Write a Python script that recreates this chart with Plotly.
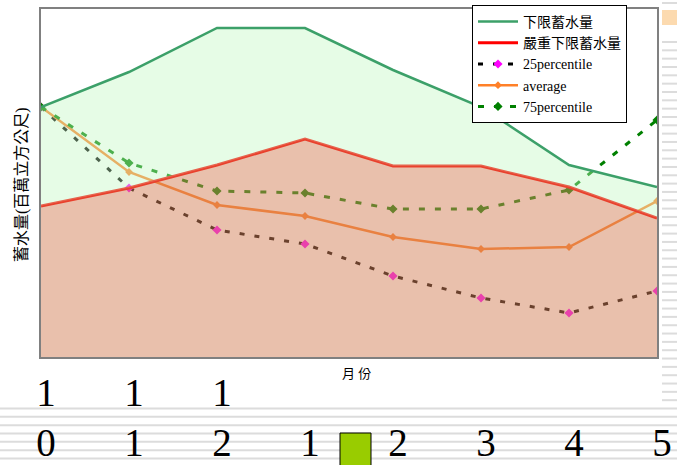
import plotly.graph_objects as go

# Months of the water year (Oct -> May)
months = ["10", "11", "12", "1", "2", "3", "4", "5"]

# Storage curves (relative units, 百萬立方公尺)
lower_limit = [250, 285, 329, 329, 287, 250, 192, 170]       # 下限蓄水量
severe_lower = [151, 169, 192, 218, 191, 191, 170, 139]      # 嚴重下限蓄水量
p25 = [250, 169, 127, 113, 81, 59, 44, 66]                   # 25percentile
average = [250, 185, 152, 141, 120, 108, 110, 156]           # average
p75 = [250, 194, 166, 164, 148, 148, 167, 237]               # 75percentile

# Tick labels stacked one digit per line
tick_text = [m[0] + "<br>" + m[1] if len(m) == 2 else "\u00a0<br>" + m for m in months]

W, H = 677, 465
L, R, T, B = 41, 20, 9, 108
PW, PH = W - L - R, H - T - B


def px_x(px):
    return (px - L) / PW


def px_y(py):
    return (H - B - py) / PH


SERIF = "Liberation Serif, Noto Sans CJK TC"
fig = go.Figure()

# statistic lines (drawn first so the translucent areas sit over them)
fig.add_trace(go.Scatter(
    x=months, y=p25, name="25percentile", mode="lines+markers", legendrank=3,
    line=dict(color="black", width=3, dash="5px,10px"),
    marker=dict(symbol="diamond", size=7, color="#ff00ff")))
fig.add_trace(go.Scatter(
    x=months, y=average, name="average", mode="lines+markers", legendrank=4,
    line=dict(color="rgb(255,128,40)", width=2.5),
    marker=dict(symbol="diamond", size=6, color="rgb(255,128,40)")))
fig.add_trace(go.Scatter(
    x=months, y=p75, name="75percentile", mode="lines+markers", legendrank=5,
    line=dict(color="rgb(0,128,0)", width=3, dash="6px,10px"),
    marker=dict(symbol="diamond", size=7, color="rgb(0,128,0)")))
fig.add_trace(go.Scatter(
    x=months, y=severe_lower, name="嚴重下限蓄水量", mode="lines", legendrank=2,
    line=dict(color="red", width=3)))

# translucent areas
fig.add_trace(go.Scatter(
    x=months, y=severe_lower, mode="lines", fill="tozeroy", showlegend=False,
    line=dict(width=0), fillcolor="rgba(211,129,89,0.5)", hoverinfo="skip"))
fig.add_trace(go.Scatter(
    x=months, y=lower_limit, mode="lines", fill="tonexty", showlegend=False,
    line=dict(width=0), fillcolor="rgba(192,247,192,0.4)", hoverinfo="skip"))

fig.add_trace(go.Scatter(
    x=months, y=lower_limit, name="下限蓄水量", mode="lines", legendrank=1,
    line=dict(color="rgb(60,160,105)", width=2.5)))

# slide background decoration: striped rules and accents
shapes = []
stripe = "rgb(220,220,220)"
shapes.append(dict(type="line", xref="paper", yref="paper", layer="below",
                   x0=px_x(662), x1=px_x(W), y0=px_y(3), y1=px_y(3),
                   line=dict(color=stripe, width=2)))
k = 0
while True:
    yy = 42 + 8.33 * k
    if yy > H:
        break
    x0 = 662 if yy < 405 else 0
    shapes.append(dict(type="line", xref="paper", yref="paper", layer="below",
                       x0=px_x(x0), x1=px_x(W), y0=px_y(yy), y1=px_y(yy),
                       line=dict(color=stripe, width=2)))
    k += 1
shapes.append(dict(type="rect", xref="paper", yref="paper", layer="below",
                   x0=px_x(662), x1=px_x(W), y0=px_y(10), y1=px_y(25),
                   fillcolor="rgb(252,218,175)", line=dict(width=0)))
shapes.append(dict(type="rect", xref="paper", yref="paper", layer="below",
                   x0=px_x(340), x1=px_x(371), y0=px_y(433), y1=px_y(470),
                   fillcolor="#99cc00", line=dict(color="black", width=1)))

fig.update_layout(
    width=W, height=H,
    margin=dict(l=L, r=R, t=T, b=B, autoexpand=False),
    paper_bgcolor="white", plot_bgcolor="white",
    showlegend=True,
    legend=dict(x=px_x(472), y=px_y(5), xanchor="left", yanchor="top",
                traceorder="normal",
                bgcolor="white", bordercolor="black", borderwidth=1,
                font=dict(family=SERIF, size=14, color="black"),
                tracegroupgap=0, itemwidth=40),
    shapes=shapes,
    annotations=[
        dict(text="蓄水量(百萬立方公尺)", xref="paper", yref="paper",
             x=px_x(11), y=px_y(185), textangle=-90, showarrow=False,
             font=dict(family=SERIF, size=16, color="black")),
        dict(text="月 份", xref="paper", yref="paper",
             x=px_x(356), y=px_y(383), showarrow=False,
             font=dict(family=SERIF, size=13, color="black")),
    ],
)
fig.update_xaxes(type="category", range=[0, len(months) - 1], automargin=False,
                 tickvals=months, ticktext=tick_text, ticks="",
                 tickfont=dict(family="Liberation Serif", size=39, color="black"),
                 ticklabelshift=5,
                 showline=True, mirror=True, linecolor="#808080", linewidth=1.5,
                 showgrid=False, zeroline=False)
fig.update_yaxes(range=[0, PH], showticklabels=False, ticks="", automargin=False,
                 showline=True, mirror=True, linecolor="#808080", linewidth=1.5,
                 showgrid=False, zeroline=False)

fig.write_html("out.html")
